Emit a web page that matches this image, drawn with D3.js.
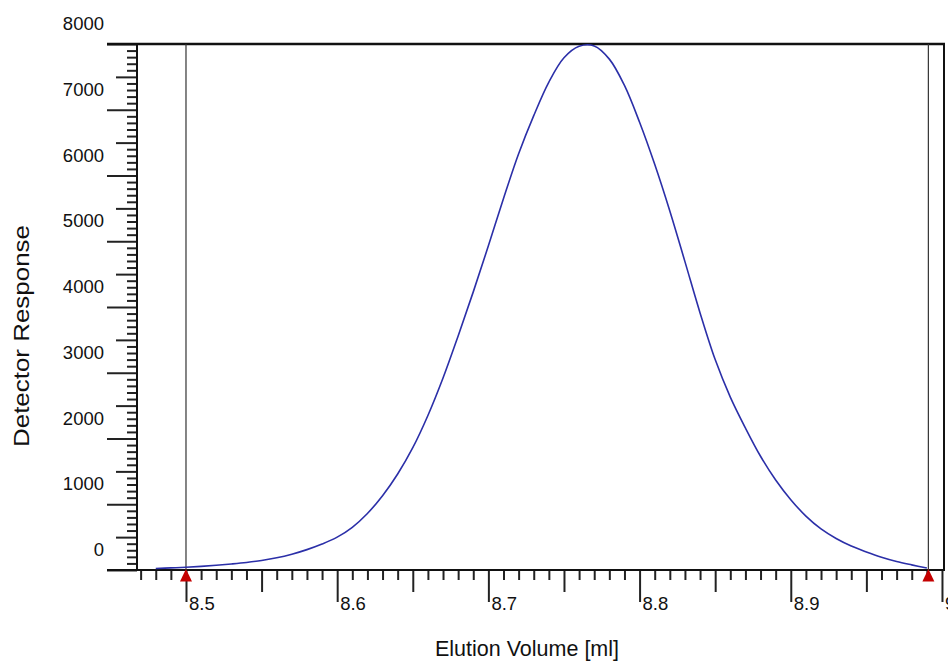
<!DOCTYPE html>
<html>
<head>
<meta charset="utf-8">
<script src="https://cdn.jsdelivr.net/npm/d3@7"></script>
<style>
  body { margin: 0; background: #fff; }
  svg { display: block; font-family: "Liberation Sans", Arial, sans-serif; }
  .tick line { stroke: #222; stroke-width: 2; }
  .domain { display: none; }
</style>
</head>
<body>
<svg width="948" height="661"></svg>
<script>
// elution volume [ml] and detector response
const volume = [8.48, 8.49, 8.50, 8.51, 8.52, 8.53, 8.54, 8.55, 8.56, 8.57, 8.58, 8.59,
  8.60, 8.61, 8.62, 8.63, 8.64, 8.65, 8.66, 8.67, 8.68, 8.69, 8.70, 8.71, 8.72, 8.73,
  8.74, 8.75, 8.76, 8.77, 8.78, 8.79, 8.80, 8.81, 8.82, 8.83, 8.84, 8.85, 8.86, 8.87,
  8.88, 8.89, 8.90, 8.91, 8.92, 8.93, 8.94, 8.95, 8.96, 8.97, 8.98, 8.99]
const response = [22, 32, 42, 55, 72, 92, 115, 145, 185, 240, 310, 395,
  500, 650, 860, 1130, 1460, 1860, 2350, 2920, 3560, 4230, 4930, 5650, 6330, 6910,
  7420, 7790, 7965, 7970, 7770, 7370, 6810, 6170, 5460, 4690, 3910, 3200, 2630, 2160,
  1730, 1370, 1070, 820, 625, 480, 365, 275, 195, 130, 78, 30]

// integration limits (red markers)
const limits = [8.5, 8.991]

const yLabels = [0, 1000, 2000, 3000, 4000, 5000, 6000, 7000, 8000]
const xLabelValues = [8.5, 8.6, 8.7, 8.8, 8.9, 9.0]
const xLabelText = ['8.5', '8.6', '8.7', '8.8', '8.9', '9']

const svg = d3.select('svg')

const x = d3.scaleLinear().domain([8.4676, 9.002]).range([137, 945])
const y = d3.scaleLinear().domain([0, 8000]).range([570, 44])

// y ticks every 100, medium at 500, long at 1000
const yAll = d3.range(0, 81).map(i => i * 100)
const yMinor = yAll.filter(v => v % 500 !== 0)
const yMid = yAll.filter(v => v % 500 === 0 && v % 1000 !== 0)
const yMajor = yAll.filter(v => v % 1000 === 0)

const yAxisG = svg.append('g').attr('transform', 'translate(137,0)')
yAxisG.append('g').call(d3.axisLeft(y).tickValues(yMinor).tickSize(10).tickFormat(''))
yAxisG.append('g').call(d3.axisLeft(y).tickValues(yMid).tickSize(21).tickFormat(''))
yAxisG.append('g').call(d3.axisLeft(y).tickValues(yMajor).tickSize(30).tickFormat(''))

// x ticks every 0.01, medium at 0.05, long at 0.1
const xIdx = d3.range(847, 901)
const xMinor = xIdx.filter(i => i % 5 !== 0).map(i => i / 100)
const xMid = xIdx.filter(i => i % 5 === 0 && i % 10 !== 0).map(i => i / 100)
const xMajor = xIdx.filter(i => i % 10 === 0).map(i => i / 100)

const xAxisG = svg.append('g').attr('transform', 'translate(0,570)')
xAxisG.append('g').call(d3.axisBottom(x).tickValues(xMinor).tickSize(10).tickFormat(''))
xAxisG.append('g').call(d3.axisBottom(x).tickValues(xMid).tickSize(22).tickFormat(''))
xAxisG.append('g').call(d3.axisBottom(x).tickValues(xMajor).tickSize(32).tickFormat(''))

// frame
svg.append('line').attr('x1', 107).attr('x2', 945).attr('y1', y(8000)).attr('y2', y(8000))
  .attr('stroke', '#111').attr('stroke-width', 2.5)
svg.append('line').attr('x1', 944).attr('x2', 944).attr('y1', y(8000)).attr('y2', y(0))
  .attr('stroke', '#111').attr('stroke-width', 2)
svg.append('line').attr('x1', 137).attr('x2', 137).attr('y1', y(8000)).attr('y2', y(0))
  .attr('stroke', '#111').attr('stroke-width', 2)
svg.append('line').attr('x1', 107).attr('x2', 945).attr('y1', y(0)).attr('y2', y(0))
  .attr('stroke', '#111').attr('stroke-width', 2)

// y labels sit above their long ticks
svg.append('g').selectAll('text')
  .data(yLabels)
  .enter().append('text')
    .attr('x', 104)
    .attr('y', d => y(d) - 14)
    .attr('text-anchor', 'end')
    .attr('font-size', 18.5)
    .attr('fill', '#111')
    .text(d => d)

// x labels to the right of their ticks
svg.append('g').selectAll('text')
  .data(xLabelValues)
  .enter().append('text')
    .attr('x', d => x(d) + 3)
    .attr('y', 610)
    .attr('font-size', 18.5)
    .attr('fill', '#111')
    .text((d, i) => xLabelText[i])

// limit lines
svg.append('g').selectAll('line')
  .data(limits)
  .enter().append('line')
    .attr('x1', d => x(d)).attr('x2', d => x(d))
    .attr('y1', y(8000)).attr('y2', y(0))
    .attr('stroke', '#333').attr('stroke-width', 1.2)

// trace
const line = d3.line()
  .x((d, i) => x(volume[i]))
  .y(d => y(d))
  .curve(d3.curveCatmullRom.alpha(0.5))

svg.append('path')
  .datum(response)
  .attr('fill', 'none')
  .attr('stroke', '#2b2fa8')
  .attr('stroke-width', 1.6)
  .attr('d', line)

// red markers at the limits
svg.append('g').selectAll('path')
  .data(limits)
  .enter().append('path')
    .attr('d', d => 'M' + x(d) + ',' + (y(0) - 1) + 'l6,12.5h-12z')
    .attr('fill', '#c40000')

// axis titles
svg.append('text')
  .attr('x', 527)
  .attr('y', 656)
  .attr('text-anchor', 'middle')
  .attr('font-size', 21.5)
  .attr('fill', '#111')
  .text('Elution Volume [ml]')

svg.append('text')
  .attr('transform', 'translate(29,336) rotate(-90)')
  .attr('text-anchor', 'middle')
  .attr('font-size', 21.5)
  .attr('textLength', 222)
  .attr('lengthAdjust', 'spacingAndGlyphs')
  .attr('fill', '#111')
  .text('Detector Response')
</script>
</body>
</html>
